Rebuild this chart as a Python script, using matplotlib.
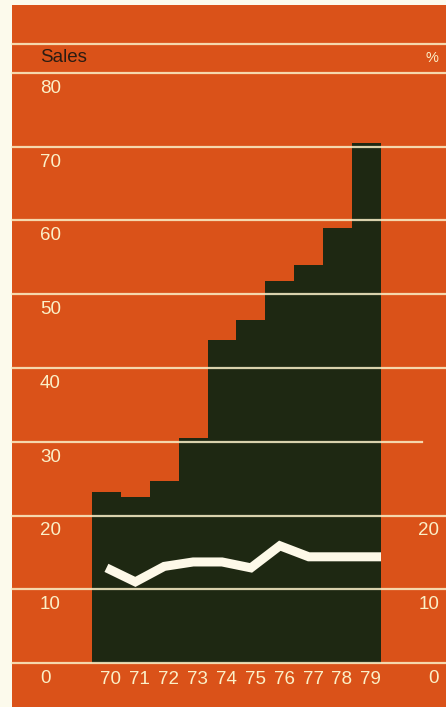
import matplotlib
matplotlib.use("Agg")
import matplotlib.pyplot as plt
from matplotlib.patches import Rectangle
from matplotlib.transforms import blended_transform_factory

# sales by year (bars) and margin % (white line), same vertical scale
years = [70, 71, 72, 73, 74, 75, 76, 77, 78, 79]
sales = [23.2, 22.5, 24.7, 30.5, 43.8, 46.5, 51.8, 54.0, 59.0, 70.5]
pct = [12.9, 11.0, 13.1, 13.7, 13.7, 12.9, 15.9, 14.4, 14.4, 14.4]
sales_ticks = [0, 10, 20, 30, 40, 50, 60, 70, 80]
pct_ticks = [0, 10, 20]

ORANGE = "#da5219"
DARK = "#1e2812"
CREAM = "#fbf0c8"
PAPER = "#fcfaec"

plt.rcParams["font.family"] = ["Liberation Sans", "DejaVu Sans"]

fig = plt.figure(figsize=(4.46, 7.07), dpi=100, facecolor=PAPER)

ax = fig.add_axes([0, 0, 1, 1])
ax.set_facecolor("none")
ax.axis("off")
px = 7.375  # pixels per sales unit
ax.set_ylim(-44 / px, (707 - 44) / px)
ax.set_xlim(70 - 106.45 / 28.9, 70 + (446 - 106.45) / 28.9)

# orange card
ax.add_patch(Rectangle((12 / 446, 0), 1, 1 - 5 / 707, transform=ax.transAxes,
                       facecolor=ORANGE, edgecolor="none", zorder=0))

ax.bar(years, sales, width=1.0, color=DARK, zorder=2)

ax.plot(years + [years[-1] + 0.5], pct + [pct[-1]], color="#fdf9e8", lw=6.5,
        solid_joinstyle="miter", solid_capstyle="butt", zorder=4)

ax_frac = blended_transform_factory(ax.transAxes, ax.transData)
x0, x1 = 12 / 446, 1.0
top_line = 83.9
for v in sales_ticks + [top_line]:
    xb = 422 / 446 if v == 30 else x1
    ax.plot([x0, xb], [v, v], transform=ax_frac, color=CREAM, lw=1.6, alpha=0.85, zorder=3)

for v in sales_ticks:
    ax.text(40 / 446, v - 2.1, str(v), transform=ax_frac, ha="left", va="center",
            fontsize=13.5, color=CREAM)
for v in pct_ticks:
    ax.text(439 / 446, v - 2.1, str(v), transform=ax_frac, ha="right", va="center",
            fontsize=13.5, color=CREAM)

ax.text(40 / 446, top_line - 1.8, "Sales", transform=ax_frac, ha="left", va="center",
        fontsize=13.5, color="#2a1c12")
ax.text(438 / 446, top_line - 1.8, "%", transform=ax_frac, ha="right", va="center",
        fontsize=10.5, color=CREAM)

for y in years:
    ax.text(y + 0.15, -2.3, str(y), ha="center", va="center", fontsize=13.5, color=CREAM)

fig.savefig("out.png", dpi=100, facecolor=PAPER)
